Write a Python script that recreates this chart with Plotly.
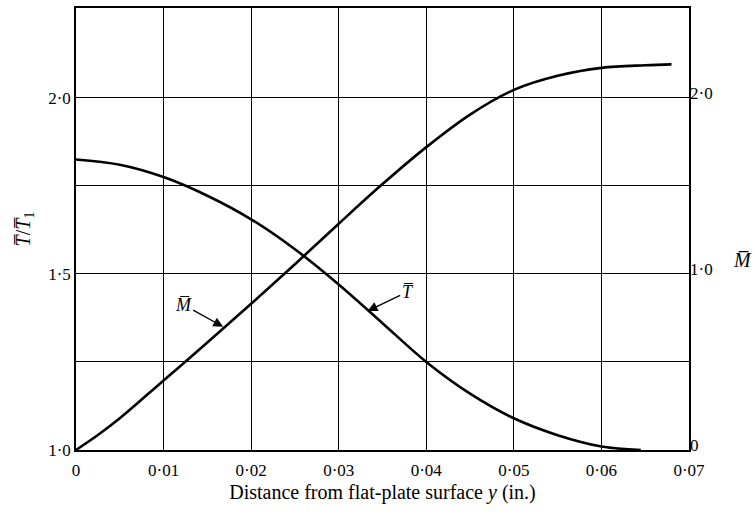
import plotly.graph_objects as go

# Distance from the plate surface, y (in.)
y_T = [0.0, 0.005, 0.01, 0.015, 0.02, 0.025, 0.03, 0.035, 0.04, 0.045,
       0.05, 0.055, 0.06, 0.0645]
# Mean temperature ratio T/T1
T_ratio = [1.825, 1.81, 1.775, 1.722, 1.655, 1.57, 1.47, 1.36, 1.25, 1.16,
           1.09, 1.042, 1.01, 1.0]

y_M = [0.0, 0.0025, 0.005, 0.01, 0.015, 0.02, 0.025, 0.03, 0.035, 0.04, 0.045,
       0.05, 0.055, 0.06, 0.065, 0.068]
# Mean Mach number
M_bar = [0.0, 0.085, 0.18, 0.395, 0.61, 0.83, 1.055, 1.285, 1.51, 1.72, 1.905,
         2.045, 2.125, 2.17, 2.185, 2.19]

x_ticks = [0, 0.01, 0.02, 0.03, 0.04, 0.05, 0.06, 0.07]
x_labels = ["0", "0·01", "0·02", "0·03", "0·04", "0·05", "0·06", "0·07"]
left_ticks = [1.0, 1.25, 1.5, 1.75, 2.0]
left_labels = ["1·0", "", "1·5", "", "2·0"]
right_ticks = [0, 1, 2]
right_labels = ["0", "1·0", "2·0"]

FONT = '"Liberation Serif", "DejaVu Serif", Times, serif'
OL = "\u0305"  # combining overline

fig = go.Figure()
fig.add_trace(go.Scatter(x=y_T, y=T_ratio, mode="lines", line=dict(color="black", width=2.6,
                         shape="spline", smoothing=1.0), yaxis="y", showlegend=False))
fig.add_trace(go.Scatter(x=y_M, y=M_bar, mode="lines", line=dict(color="black", width=2.6,
                         shape="spline", smoothing=1.0), yaxis="y2", showlegend=False))

# Curve labels with arrows
fig.add_annotation(x=0.0168, y=0.70, xref="x", yref="y2", text="<i>M" + OL + "</i>",
                   showarrow=True, arrowhead=2, arrowsize=1.4, arrowwidth=1.4,
                   arrowcolor="black", ax=-40, ay=-22,
                   font=dict(family=FONT, size=18, color="black"))
fig.add_annotation(x=0.0333, y=1.395, xref="x", yref="y", text="<i>T" + OL + "</i>",
                   showarrow=True, arrowhead=2, arrowsize=1.4, arrowwidth=1.4,
                   arrowcolor="black", ax=40, ay=-19,
                   font=dict(family=FONT, size=18, color="black"))

# Right-hand axis title, horizontal
fig.add_annotation(x=1.0, xref="paper", xanchor="left", xshift=42, y=1.08, yref="y2",
                   text="<i>M" + OL + "</i>", showarrow=False,
                   font=dict(family=FONT, size=20, color="black"))

fig.update_layout(
    width=754, height=512,
    margin=dict(l=76, r=65, t=6, b=62),
    paper_bgcolor="white", plot_bgcolor="white",
    font=dict(family=FONT, size=17, color="black"),
    xaxis=dict(range=[0, 0.07], tickvals=x_ticks, ticktext=x_labels,
               showgrid=True, gridcolor="black", gridwidth=1,
               showline=True, linecolor="black", linewidth=1.5, mirror=True,
               ticks="", zeroline=False, ticklabelstandoff=4,
               title=dict(text="Distance from flat-plate surface <i>y</i> (in.)",
                          font=dict(family=FONT, size=20), standoff=6)),
    yaxis=dict(range=[1.0, 2.255], tickvals=left_ticks, ticktext=left_labels,
               showgrid=True, gridcolor="black", gridwidth=1,
               showline=True, linecolor="black", linewidth=1.5, mirror=True,
               ticks="", zeroline=False,
               title=dict(text="<i>T" + OL + "</i>/<i>T" + OL + "</i><sub>1</sub>",
                          font=dict(family=FONT, size=20), standoff=12)),
    yaxis2=dict(range=[0, 2.51], tickvals=right_ticks, ticktext=right_labels,
                overlaying="y", side="right", showgrid=False, showline=False,
                ticks="", zeroline=False, ticklabelshift=-5),
)

fig.write_html("out.html")
